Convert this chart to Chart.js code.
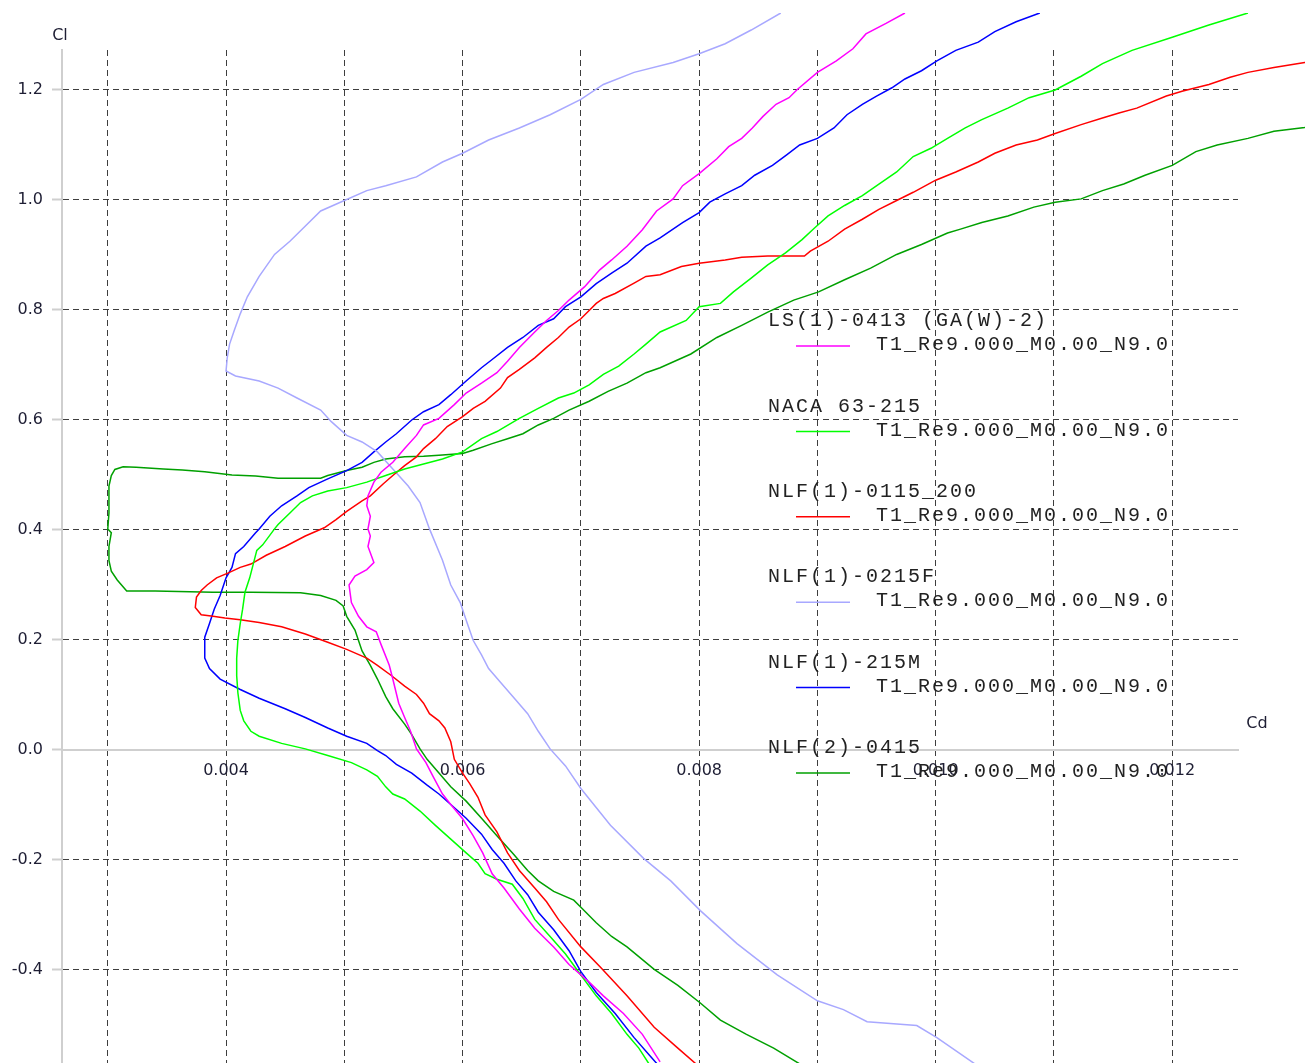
<!DOCTYPE html>
<html>
<head>
<meta charset="utf-8">
<title>Cl / Cd polars</title>
<script src="https://cdn.jsdelivr.net/npm/chart.js@4.4.1/dist/chart.umd.min.js"></script>
<style>
  html, body { margin: 0; padding: 0; background: #ffffff; }
  canvas { display: block; }
</style>
</head>
<body>
<canvas id="chart" width="1310" height="1063"></canvas>
<script>
// polars as [Cd, Cl] pairs, from low to high alpha
const ls0413 = [
  [0.00767,-0.567],[0.00752,-0.517],[0.00736,-0.479],[0.00719,-0.447],[0.00707,-0.422],[0.00690,-0.390],
  [0.00677,-0.358],[0.00661,-0.324],[0.00648,-0.289],[0.00635,-0.251],[0.00625,-0.225],[0.00617,-0.187],
  [0.00609,-0.156],[0.00600,-0.125],[0.00590,-0.099],[0.00583,-0.080],[0.00575,-0.048],[0.00569,-0.023],
  [0.00561,0.002],[0.00556,0.034],[0.00551,0.059],[0.00546,0.085],[0.00541,0.129],[0.00538,0.154],
  [0.00531,0.192],[0.00527,0.215],[0.00519,0.224],[0.00512,0.243],[0.00506,0.268],[0.00504,0.300],
  [0.00509,0.316],[0.00519,0.328],[0.00525,0.341],[0.00520,0.370],[0.00522,0.389],[0.00520,0.402],
  [0.00522,0.425],[0.00519,0.444],[0.00520,0.462],[0.00525,0.487],[0.00531,0.505],[0.00541,0.523],
  [0.00551,0.548],[0.00561,0.572],[0.00567,0.591],[0.00580,0.603],[0.00593,0.628],[0.00603,0.649],
  [0.00616,0.667],[0.00629,0.686],[0.00638,0.707],[0.00648,0.732],[0.00661,0.760],[0.00671,0.781],
  [0.00681,0.799],[0.00690,0.818],[0.00703,0.842],[0.00716,0.873],[0.00726,0.891],[0.00739,0.916],
  [0.00752,0.946],[0.00764,0.980],[0.00778,1.002],[0.00786,1.026],[0.00800,1.048],[0.00815,1.075],
  [0.00825,1.097],[0.00836,1.112],[0.00845,1.131],[0.00854,1.152],[0.00865,1.174],[0.00876,1.186],
  [0.00883,1.201],[0.00900,1.232],[0.00916,1.253],[0.00930,1.275],[0.00941,1.302],[0.00958,1.321],
  [0.00974,1.340]
];
const naca63215 = [
  [0.00758,-0.572],[0.00749,-0.542],[0.00739,-0.517],[0.00726,-0.479],[0.00713,-0.447],[0.00700,-0.409],
  [0.00687,-0.371],[0.00674,-0.339],[0.00661,-0.308],[0.00651,-0.270],[0.00642,-0.244],[0.00629,-0.235],
  [0.00619,-0.225],[0.00613,-0.206],[0.00603,-0.187],[0.00590,-0.162],[0.00577,-0.137],[0.00564,-0.111],
  [0.00551,-0.089],[0.00541,-0.080],[0.00535,-0.067],[0.00528,-0.048],[0.00519,-0.036],[0.00506,-0.023],
  [0.00486,-0.010],[0.00467,0.002],[0.00447,0.012],[0.00428,0.025],[0.00421,0.034],[0.00415,0.053],
  [0.00412,0.072],[0.00410,0.104],[0.00409,0.135],[0.00409,0.167],[0.00410,0.199],[0.00412,0.230],
  [0.00414,0.256],[0.00416,0.287],[0.00420,0.313],[0.00423,0.338],[0.00426,0.363],[0.00431,0.373],
  [0.00441,0.402],[0.00444,0.410],[0.00454,0.431],[0.00463,0.450],[0.00473,0.462],[0.00486,0.471],
  [0.00502,0.477],[0.00519,0.487],[0.00535,0.499],[0.00551,0.511],[0.00567,0.520],[0.00583,0.529],
  [0.00600,0.542],[0.00616,0.566],[0.00629,0.579],[0.00648,0.603],[0.00664,0.621],[0.00681,0.640],
  [0.00694,0.649],[0.00707,0.664],[0.00719,0.683],[0.00732,0.698],[0.00745,0.720],[0.00755,0.738],
  [0.00767,0.760],[0.00789,0.781],[0.00800,0.806],[0.00818,0.812],[0.00829,0.833],[0.00844,0.858],
  [0.00858,0.882],[0.00873,0.904],[0.00887,0.928],[0.00898,0.950],[0.00909,0.971],[0.00923,0.990],
  [0.00938,1.008],[0.00952,1.029],[0.00967,1.051],[0.00981,1.079],[0.00996,1.094],[0.01010,1.112],
  [0.01025,1.131],[0.01039,1.146],[0.01061,1.167],[0.01079,1.186],[0.01101,1.200],[0.01123,1.225],
  [0.01141,1.248],[0.01166,1.272],[0.01200,1.296],[0.01231,1.318],[0.01264,1.340]
];
const nlf0115 = [
  [0.00798,-0.572],[0.00782,-0.542],[0.00762,-0.504],[0.00739,-0.447],[0.00717,-0.396],[0.00700,-0.358],
  [0.00681,-0.308],[0.00671,-0.276],[0.00661,-0.251],[0.00648,-0.219],[0.00638,-0.187],[0.00629,-0.149],
  [0.00619,-0.118],[0.00613,-0.086],[0.00606,-0.061],[0.00600,-0.042],[0.00593,-0.017],[0.00590,0.015],
  [0.00585,0.040],[0.00580,0.053],[0.00572,0.066],[0.00567,0.085],[0.00561,0.101],[0.00551,0.116],
  [0.00540,0.135],[0.00528,0.154],[0.00519,0.167],[0.00502,0.183],[0.00486,0.196],[0.00467,0.211],
  [0.00447,0.224],[0.00428,0.232],[0.00412,0.237],[0.00399,0.240],[0.00389,0.243],[0.00379,0.246],
  [0.00374,0.259],[0.00375,0.278],[0.00379,0.290],[0.00384,0.300],[0.00392,0.313],[0.00402,0.322],
  [0.00412,0.332],[0.00421,0.338],[0.00434,0.354],[0.00450,0.370],[0.00467,0.389],[0.00483,0.404],
  [0.00493,0.419],[0.00502,0.434],[0.00515,0.453],[0.00522,0.462],[0.00533,0.484],[0.00541,0.499],
  [0.00551,0.517],[0.00561,0.533],[0.00567,0.548],[0.00577,0.566],[0.00587,0.588],[0.00600,0.606],
  [0.00609,0.621],[0.00619,0.634],[0.00632,0.658],[0.00638,0.677],[0.00648,0.692],[0.00661,0.713],
  [0.00671,0.732],[0.00681,0.750],[0.00690,0.769],[0.00700,0.784],[0.00707,0.799],[0.00713,0.812],
  [0.00719,0.821],[0.00729,0.830],[0.00745,0.849],[0.00755,0.861],[0.00767,0.864],[0.00785,0.879],
  [0.00800,0.885],[0.00822,0.891],[0.00836,0.896],[0.00858,0.898],[0.00889,0.898],[0.00894,0.907],
  [0.00909,0.925],[0.00923,0.947],[0.00938,0.965],[0.00952,0.983],[0.00967,0.999],[0.00981,1.014],
  [0.01000,1.036],[0.01017,1.051],[0.01036,1.069],[0.01050,1.085],[0.01068,1.100],[0.01086,1.109],
  [0.01101,1.121],[0.01123,1.137],[0.01141,1.149],[0.01155,1.158],[0.01170,1.167],[0.01195,1.189],
  [0.01209,1.198],[0.01231,1.210],[0.01249,1.223],[0.01264,1.232],[0.01286,1.241],[0.01312,1.250],
  [0.01320,1.253]
];
const nlf0215f = [
  [0.01034,-0.572],[0.01001,-0.523],[0.00984,-0.501],[0.00942,-0.494],[0.00922,-0.472],[0.00900,-0.456],
  [0.00866,-0.409],[0.00832,-0.352],[0.00801,-0.292],[0.00776,-0.238],[0.00753,-0.197],[0.00725,-0.137],
  [0.00700,-0.070],[0.00687,-0.029],[0.00674,0.002],[0.00664,0.034],[0.00655,0.066],[0.00645,0.091],
  [0.00632,0.123],[0.00622,0.148],[0.00616,0.173],[0.00609,0.199],[0.00604,0.230],[0.00598,0.268],
  [0.00590,0.300],[0.00583,0.345],[0.00572,0.402],[0.00564,0.450],[0.00554,0.480],[0.00541,0.511],
  [0.00528,0.542],[0.00515,0.560],[0.00502,0.572],[0.00489,0.597],[0.00480,0.618],[0.00460,0.640],
  [0.00444,0.658],[0.00428,0.671],[0.00408,0.680],[0.00400,0.689],[0.00401,0.713],[0.00403,0.738],
  [0.00407,0.763],[0.00412,0.793],[0.00418,0.824],[0.00428,0.861],[0.00441,0.901],[0.00454,0.925],
  [0.00463,0.944],[0.00480,0.980],[0.00501,1.000],[0.00519,1.017],[0.00535,1.026],[0.00561,1.042],
  [0.00583,1.069],[0.00600,1.085],[0.00622,1.109],[0.00648,1.131],[0.00674,1.155],[0.00700,1.183],
  [0.00719,1.210],[0.00745,1.232],[0.00778,1.250],[0.00800,1.266],[0.00822,1.284],[0.00844,1.309],
  [0.00869,1.340]
];
const nlf215m = [
  [0.00765,-0.572],[0.00758,-0.555],[0.00745,-0.523],[0.00729,-0.479],[0.00713,-0.441],[0.00700,-0.403],
  [0.00690,-0.365],[0.00677,-0.327],[0.00664,-0.295],[0.00655,-0.263],[0.00645,-0.238],[0.00635,-0.206],
  [0.00625,-0.181],[0.00616,-0.153],[0.00603,-0.124],[0.00590,-0.099],[0.00580,-0.080],[0.00570,-0.064],
  [0.00557,-0.042],[0.00544,-0.026],[0.00535,-0.010],[0.00528,-0.001],[0.00519,0.012],[0.00502,0.025],
  [0.00486,0.040],[0.00467,0.059],[0.00450,0.075],[0.00428,0.094],[0.00412,0.110],[0.00395,0.129],
  [0.00386,0.148],[0.00382,0.167],[0.00382,0.205],[0.00386,0.230],[0.00390,0.256],[0.00395,0.281],
  [0.00400,0.313],[0.00405,0.332],[0.00408,0.357],[0.00415,0.370],[0.00425,0.395],[0.00428,0.402],
  [0.00437,0.425],[0.00447,0.444],[0.00460,0.462],[0.00470,0.477],[0.00486,0.493],[0.00502,0.508],
  [0.00515,0.523],[0.00525,0.542],[0.00535,0.560],[0.00544,0.575],[0.00557,0.600],[0.00567,0.615],
  [0.00580,0.628],[0.00590,0.646],[0.00603,0.671],[0.00616,0.695],[0.00625,0.710],[0.00638,0.732],
  [0.00651,0.750],[0.00664,0.772],[0.00677,0.784],[0.00687,0.806],[0.00700,0.824],[0.00713,0.848],
  [0.00726,0.867],[0.00739,0.885],[0.00755,0.916],[0.00767,0.931],[0.00786,0.959],[0.00800,0.977],
  [0.00809,0.996],[0.00822,1.011],[0.00836,1.026],[0.00847,1.045],[0.00862,1.063],[0.00874,1.082],
  [0.00885,1.100],[0.00900,1.112],[0.00914,1.131],[0.00925,1.155],[0.00938,1.174],[0.00950,1.189],
  [0.00963,1.204],[0.00974,1.220],[0.00988,1.235],[0.01001,1.253],[0.01017,1.272],[0.01036,1.287],
  [0.01050,1.306],[0.01068,1.324],[0.01088,1.340]
];
const nlf0415 = [
  [0.00886,-0.572],[0.00863,-0.542],[0.00840,-0.517],[0.00818,-0.491],[0.00801,-0.460],[0.00782,-0.428],
  [0.00762,-0.399],[0.00739,-0.358],[0.00726,-0.339],[0.00713,-0.314],[0.00700,-0.286],[0.00694,-0.273],
  [0.00677,-0.257],[0.00664,-0.238],[0.00655,-0.219],[0.00642,-0.187],[0.00629,-0.156],[0.00616,-0.124],
  [0.00603,-0.093],[0.00590,-0.067],[0.00580,-0.042],[0.00570,-0.017],[0.00564,0.002],[0.00557,0.028],
  [0.00551,0.047],[0.00541,0.075],[0.00535,0.097],[0.00528,0.129],[0.00522,0.154],[0.00515,0.180],
  [0.00509,0.218],[0.00502,0.243],[0.00499,0.262],[0.00493,0.272],[0.00480,0.281],[0.00463,0.286],
  [0.00421,0.287],[0.00389,0.287],[0.00340,0.289],[0.00316,0.289],[0.00308,0.309],[0.00303,0.325],
  [0.00301,0.344],[0.00301,0.370],[0.00303,0.395],[0.00300,0.402],[0.00301,0.431],[0.00301,0.456],
  [0.00301,0.480],[0.00303,0.499],[0.00306,0.510],[0.00313,0.515],[0.00324,0.514],[0.00347,0.511],
  [0.00363,0.509],[0.00382,0.506],[0.00405,0.500],[0.00425,0.498],[0.00444,0.494],[0.00460,0.494],
  [0.00480,0.494],[0.00486,0.499],[0.00502,0.508],[0.00515,0.514],[0.00525,0.523],[0.00535,0.529],
  [0.00551,0.533],[0.00567,0.534],[0.00580,0.536],[0.00600,0.539],[0.00609,0.545],[0.00625,0.557],
  [0.00638,0.566],[0.00651,0.575],[0.00664,0.591],[0.00677,0.603],[0.00690,0.618],[0.00707,0.634],
  [0.00723,0.652],[0.00739,0.667],[0.00755,0.686],[0.00767,0.695],[0.00793,0.720],[0.00815,0.750],
  [0.00836,0.772],[0.00858,0.796],[0.00880,0.818],[0.00901,0.833],[0.00923,0.855],[0.00945,0.876],
  [0.00967,0.901],[0.00988,0.919],[0.01010,0.940],[0.01021,0.947],[0.01039,0.959],[0.01061,0.971],
  [0.01083,0.987],[0.01101,0.996],[0.01123,1.002],[0.01141,1.017],[0.01159,1.029],[0.01177,1.045],
  [0.01200,1.063],[0.01220,1.088],[0.01238,1.100],[0.01264,1.112],[0.01286,1.125],[0.01312,1.132],
  [0.01320,1.135]
];

const foilPolars = [ls0413, naca63215, nlf0115, nlf0215f, nlf215m, nlf0415];
const foilNames = ["LS(1)-0413 (GA(W)-2)", "NACA 63-215", "NLF(1)-0115_200", "NLF(1)-0215F", "NLF(1)-215M", "NLF(2)-0415"];
const polarNames = ["T1_Re9.000_M0.00_N9.0", "T1_Re9.000_M0.00_N9.0", "T1_Re9.000_M0.00_N9.0",
                    "T1_Re9.000_M0.00_N9.0", "T1_Re9.000_M0.00_N9.0", "T1_Re9.000_M0.00_N9.0"];
const foilColors = ["#ff00ff", "#00ff00", "#ff0000", "#a8a8ff", "#0000ff", "#00a000"];

const cdTickValues = [0.004, 0.006, 0.008, 0.010, 0.012];
const cdTickLabels = ["0.004", "0.006", "0.008", "0.010", "0.012"];
const clTickValues = [-0.4, -0.2, 0.0, 0.2, 0.4, 0.6, 0.8, 1.0, 1.2];
const clTickLabels = ["-0.4", "-0.2", "0.0", "0.2", "0.4", "0.6", "0.8", "1.0", "1.2"];

const axisFont = { family: "DejaVu Sans", size: 16 };
const labelColor = "#1e1e34";
const gridColor = "#3e3e3e";
const axisColor = "#cfcfcf";

function tickText(values, labels, v) {
  const k = values.findIndex(t => Math.abs(t - v) < 1e-7);
  return k < 0 ? "" : labels[k];
}

// axis names and the foil/polar key drawn on top of the curves
const polarDecor = {
  id: "polarDecor",
  afterDraw(chart) {
    const ctx = chart.ctx;
    const area = chart.chartArea;
    const y0 = chart.scales.y.getPixelForValue(0);

    ctx.save();
    ctx.fillStyle = labelColor;
    ctx.font = "16px 'DejaVu Sans'";
    ctx.textAlign = "center";
    ctx.textBaseline = "middle";
    ctx.fillText("Cl", area.left - 2, area.top - 14);
    ctx.fillText("Cd", area.right + 19, y0 - 26);

    ctx.font = "20px 'Liberation Mono'";
    ctx.letterSpacing = "2px";
    ctx.textAlign = "left";
    ctx.fillStyle = "#222222";
    const left = 768, top = 321, step = 85.4;
    chart.data.datasets.forEach((ds, i) => {
      const y = top + i * step;
      ctx.fillText(ds.label, left, y);
      ctx.strokeStyle = ds.borderColor;
      ctx.lineWidth = 1.5;
      ctx.beginPath();
      ctx.moveTo(796, y + 25);
      ctx.lineTo(850, y + 25);
      ctx.stroke();
      ctx.fillText(polarNames[i], 876, y + 24);
    });
    ctx.restore();
  }
};

const ctx = document.getElementById("chart");

new Chart(ctx, {
  type: "scatter",
  data: {
    datasets: foilPolars.map((pts, i) => ({
      label: foilNames[i],
      data: pts.map(p => ({ x: p[0], y: p[1] })),
      borderColor: foilColors[i],
      backgroundColor: foilColors[i],
      borderWidth: 1.5,
      pointRadius: 0,
      showLine: true,
      fill: false,
      tension: 0,
      clip: { left: 0, top: 37, right: 67, bottom: 0 },
    })),
  },
  options: {
    responsive: false,
    animation: false,
    events: [],
    layout: { padding: { top: 50, right: 72, bottom: 0, left: 0 } },
    plugins: {
      legend: { display: false },
      tooltip: { enabled: false },
    },
    scales: {
      x: {
        type: "linear",
        min: 0.002613,
        max: 0.012556,
        position: { y: 0 },
        afterFit: (scale) => { scale.height = 0; scale.paddingLeft = 0; scale.paddingRight = 0; },
        grid: { color: gridColor, lineWidth: 1, drawTicks: false },
        border: { display: true, color: axisColor, width: 2, dash: [6, 4] },
        ticks: {
          stepSize: 0.001,
          includeBounds: false,
          autoSkip: false,
          maxRotation: 0,
          padding: 11,
          color: labelColor,
          font: axisFont,
          callback: (v) => tickText(cdTickValues, cdTickLabels, v),
        },
      },
      y: {
        type: "linear",
        min: -0.5691,
        max: 1.2727,
        position: "left",
        // fixed axis width, and no extra room kept for the end labels
        afterFit: (scale) => { scale.width = 62; scale.paddingTop = 0; scale.paddingBottom = 0; },
        grid: {
          color: (c) => (c.tick && Math.abs(c.tick.value) < 1e-9 ? "rgba(0,0,0,0)" : gridColor),
          lineWidth: 1,
          tickColor: axisColor,
          tickLength: 10,
          tickWidth: 2,
        },
        border: { display: true, color: axisColor, width: 2, dash: [6, 4] },
        ticks: {
          stepSize: 0.2,
          includeBounds: false,
          autoSkip: false,
          padding: 9,
          color: labelColor,
          font: axisFont,
          callback: (v) => tickText(clTickValues, clTickLabels, v),
        },
      },
    },
  },
  plugins: [polarDecor],
});
</script>
</body>
</html>
